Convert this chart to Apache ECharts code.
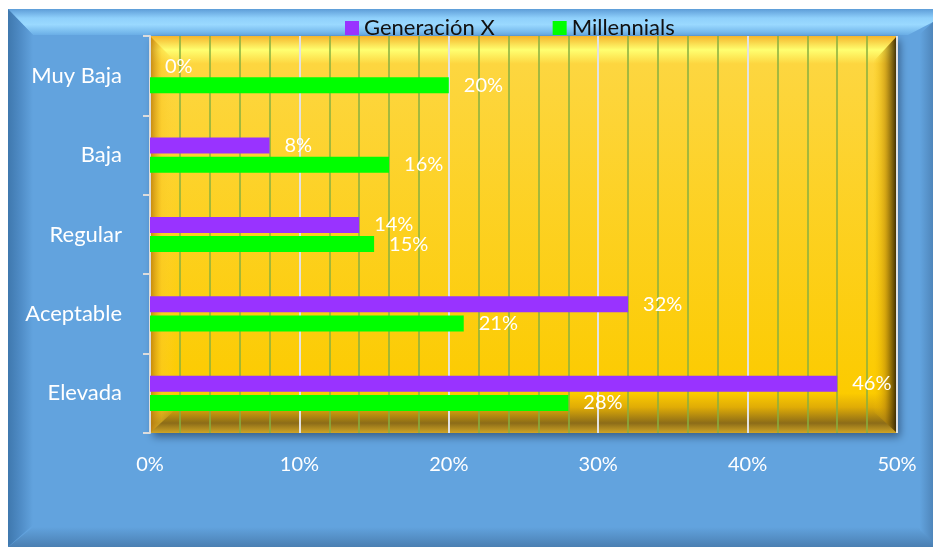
<!DOCTYPE html>
<html>
<head>
<meta charset="utf-8">
<script src="https://cdn.jsdelivr.net/npm/echarts@6/dist/echarts.min.js"></script>
<style>
  html, body { margin: 0; padding: 0; background: #fff; }
  #chart { width: 933px; height: 547px; }
</style>
</head>
<body>
<div id="chart"></div>
<script>
const categories = ['Muy Baja', 'Baja', 'Regular', 'Aceptable', 'Elevada'];
const genX = [0, 8, 14, 32, 46];
const millennials = [20, 16, 15, 21, 28];
const seriesNames = ['Generación X', 'Millennials'];

// plot area box (pixels)
const L = 150, T = 36, R = 897, B = 433;

let chart = echarts.init(document.getElementById('chart'));

function vgrad(stops) {
  return new echarts.graphic.LinearGradient(0, 0, 0, 1, stops.map(s => ({offset: s[0], color: s[1]})));
}
function hgrad(stops) {
  return new echarts.graphic.LinearGradient(0, 0, 1, 0, stops.map(s => ({offset: s[0], color: s[1]})));
}

const deco = [
  // outer blue frame
  {type: 'rect', shape: {x: 8, y: 9, width: 925, height: 538}, style: {fill: '#62a3de'}, z: -20},
  {type: 'polygon', shape: {points: [[8, 9], [933, 9], [933, 22], [908, 35], [33, 35]]},
    style: {fill: vgrad([[0, '#5d9dd8'], [0.35, '#8fd0fb'], [0.6, '#9ad9ff'], [1, '#6aaee6']])}, z: -19},
  {type: 'polygon', shape: {points: [[8, 9], [33, 35], [33, 525], [8, 547]]},
    style: {fill: hgrad([[0, '#3f78ae'], [0.5, '#4f8cc6'], [1, '#62a3de']])}, z: -19},
  {type: 'polygon', shape: {points: [[8, 547], [33, 527], [918, 527], [933, 540], [933, 547]]},
    style: {fill: vgrad([[0, '#62a3de'], [1, '#4a7fb2']])}, z: -19},
  {type: 'polygon', shape: {points: [[933, 22], [920, 34], [920, 530], [933, 542]]},
    style: {fill: hgrad([[0, '#62a3de'], [1, '#4f86bb']])}, z: -19},

  // golden plot area
  {type: 'rect', shape: {x: L, y: T, width: R - L, height: B - T},
    style: {fill: vgrad([[0, '#f5b52c'], [0.035, '#ffff70'], [0.07, '#fdd640'], [0.9, '#fccb00'],
      [0.935, '#e0ac06'], [0.975, '#8c6c18'], [1, '#cfa426']]),
      shadowColor: 'rgba(20,40,70,0.55)', shadowBlur: 8, shadowOffsetX: 3, shadowOffsetY: 4}, z: -15},
  {type: 'polygon', shape: {points: [[L, T], [L + 26, T + 26], [L + 26, B - 24], [L, B]]},
    style: {fill: hgrad([[0, 'rgba(185,120,10,0.85)'], [0.45, 'rgba(250,200,40,0.5)'], [1, 'rgba(253,210,60,0)']])}, z: -14},
  {type: 'polygon', shape: {points: [[R, T], [R - 24, T + 26], [R - 24, B - 22], [R, B]]},
    style: {fill: hgrad([[0, 'rgba(252,200,0,0)'], [0.5, 'rgba(190,140,10,0.6)'], [1, 'rgba(40,28,0,0.95)']])}, z: -14},
  {type: 'line', shape: {x1: R, y1: T, x2: R, y2: B}, style: {stroke: '#e6e6e6', lineWidth: 2}, z: -13}
];

let option = {
  animation: false,
  textStyle: {fontFamily: 'Lato, "Noto Sans", sans-serif'},
  legend: {
    data: seriesNames,
    left: 340,
    top: 12,
    itemWidth: 14,
    itemHeight: 14,
    itemGap: 58,
    icon: 'rect',
    textStyle: {color: '#111', fontSize: 22, fontFamily: 'Lato'}
  },
  grid: {left: L, right: 933 - R, top: T, bottom: 547 - B, containLabel: false},
  graphic: {elements: deco},
  xAxis: {
    type: 'value',
    min: 0,
    max: 50,
    interval: 10,
    axisLine: {show: false},
    axisTick: {show: false},
    axisLabel: {color: '#fff', fontSize: 20, margin: 22, formatter: '{value}%', fontFamily: 'Lato'},
    splitLine: {show: true, lineStyle: {color: '#e2e2e2', width: 2}},
    minorTick: {show: false, splitNumber: 5},
    minorSplitLine: {show: true, lineStyle: {color: '#86b040', width: 1.5}}
  },
  yAxis: {
    type: 'category',
    inverse: true,
    data: categories,
    axisLine: {show: true, lineStyle: {color: '#dcdcdc', width: 2}},
    axisTick: {show: true, length: 7, lineStyle: {color: '#dcdcdc', width: 2}},
    axisLabel: {color: '#fff', fontSize: 22, margin: 28, fontFamily: 'Lato'},
    splitLine: {show: false}
  },
  series: [
    {
      name: seriesNames[0],
      type: 'bar',
      data: genX,
      barWidth: 16,
      barGap: '20%',
      itemStyle: {color: '#9933ff'},
      label: {show: true, position: 'right', distance: 15, formatter: '{c}%', color: '#fff', fontSize: 20, fontFamily: 'Lato'}
    },
    {
      name: seriesNames[1],
      type: 'bar',
      data: millennials,
      barWidth: 16,
      itemStyle: {color: '#00ff00'},
      label: {show: true, position: 'right', distance: 15, formatter: '{c}%', color: '#fff', fontSize: 20, fontFamily: 'Lato'}
    }
  ]
};

chart.setOption(option);
</script>
</body>
</html>
